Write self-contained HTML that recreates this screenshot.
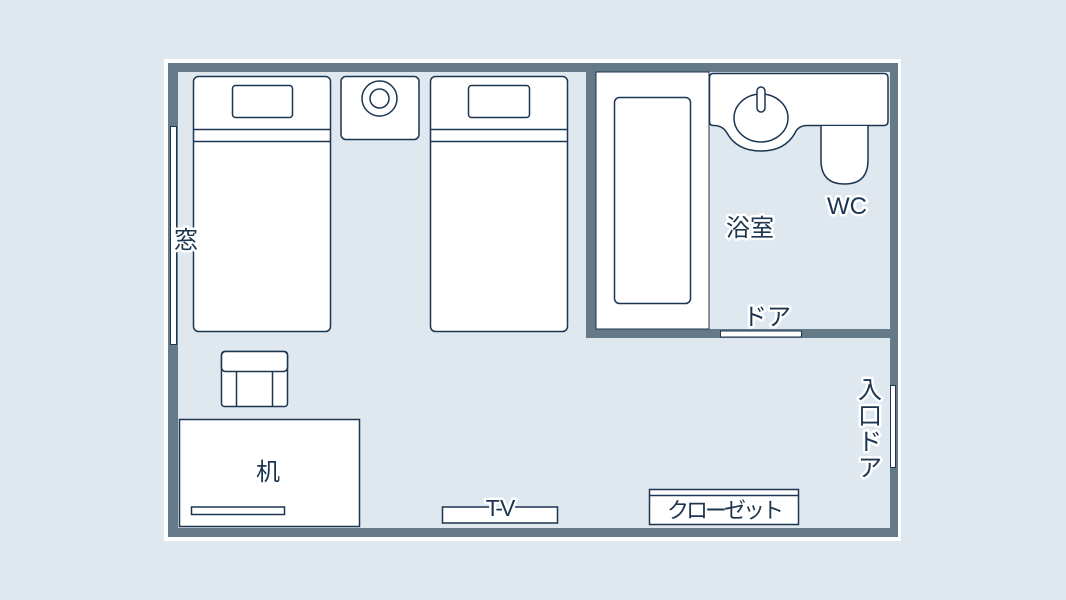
<!DOCTYPE html>
<html><head><meta charset="utf-8"><style>
html,body{margin:0;padding:0;background:#dfe7ef;}
svg{display:block}
text{font-family:"Liberation Sans","Noto Sans CJK JP",sans-serif;fill:#1c3550;}
.h{stroke:#fff;stroke-width:5;paint-order:stroke;stroke-linejoin:round}
</style></head><body>
<svg width="1066" height="600" viewBox="0 0 1066 600" xmlns="http://www.w3.org/2000/svg">
<rect width="1066" height="600" fill="#dfe7ef"/>
<rect x="164" y="59" width="737" height="482" fill="#fff"/>
<rect x="168" y="63" width="730" height="474" fill="#647a89"/>
<rect x="178" y="72" width="712" height="456" fill="#dfe7ef"/>
<!-- bath walls -->
<rect x="586" y="72" width="10" height="266" fill="#647a89"/>
<rect x="586" y="329" width="304" height="9" fill="#647a89"/>
<g fill="#fff" stroke="#1c3550" stroke-width="1.5">
<!-- bathtub -->
<rect x="596" y="72" width="113" height="257" stroke-width="1"/>
<rect x="614.5" y="97.5" width="76" height="206" rx="5"/>
<!-- vanity -->
<path d="M713,73.5 H884 Q888,73.5 888,78 V121 Q888,125.5 884,125.5 H806 Q798,126 795,133 Q785,151 761,151 Q737,151 727,133 Q723,126 715,125.5 H713 Q709.5,125.5 709.5,121 V78 Q709.5,73.5 713,73.5 Z"/>
<ellipse cx="761" cy="118" rx="27" ry="24"/>
<rect x="757" y="87" width="8" height="25" rx="4"/>
<path d="M821,126 V160 Q821,184 844.5,184 Q868,184 868,160 V126"/>
<!-- window & doors -->
<rect x="170.5" y="126.5" width="6" height="218" stroke-width="1"/>
<rect x="720.5" y="331" width="81" height="6" stroke-width="1"/>
<rect x="890.5" y="385.5" width="5" height="82" stroke-width="1"/>
<!-- beds -->
<rect x="193.5" y="76.5" width="137" height="255" rx="5"/>
<line x1="193.5" y1="129.5" x2="330.5" y2="129.5"/>
<line x1="193.5" y1="141.5" x2="330.5" y2="141.5"/>
<rect x="232.5" y="85.5" width="60" height="32" rx="3"/>
<rect x="430.5" y="76.5" width="137" height="255" rx="5"/>
<line x1="430.5" y1="129.5" x2="567.5" y2="129.5"/>
<line x1="430.5" y1="141.5" x2="567.5" y2="141.5"/>
<rect x="468.5" y="85.5" width="61" height="32" rx="3"/>
<!-- nightstand -->
<rect x="341" y="76.5" width="78" height="63" rx="5"/>
<circle cx="379.5" cy="98.5" r="17.5"/>
<circle cx="379.5" cy="98.5" r="9.5"/>
<!-- chair -->
<rect x="221.5" y="351.5" width="66" height="55" rx="3"/>
<rect x="221.5" y="351.5" width="66" height="20" rx="4"/>
<line x1="236.5" y1="372" x2="236.5" y2="406.5"/>
<line x1="272.5" y1="372" x2="272.5" y2="406.5"/>
<!-- desk -->
<rect x="179.5" y="419.5" width="180" height="107"/>
<rect x="191.5" y="507" width="93" height="7.5"/>
<!-- tv -->
<rect x="442.5" y="507" width="115" height="16"/>
<!-- closet -->
<rect x="649.5" y="489.5" width="149" height="35"/>
<line x1="649.5" y1="495.5" x2="798.5" y2="495.5"/>
</g>
<text x="186" y="248" font-size="24" text-anchor="middle" class="h">窓</text>
<text x="268" y="480" font-size="24" text-anchor="middle">机</text>
<text x="499" y="516" font-size="23" text-anchor="middle" class="h" letter-spacing="-3">T-V</text>
<text x="724" y="518" font-size="22" text-anchor="middle" class="h" letter-spacing="-3">クローゼット</text>
<text x="750" y="236" font-size="24" text-anchor="middle" class="h">浴室</text>
<text x="847" y="214" font-size="24" text-anchor="middle" class="h">WC</text>
<text x="767" y="325" font-size="24" text-anchor="middle" class="h">ドア</text>
<g font-size="24" text-anchor="middle">
<text x="870" y="398" class="h">入</text>
<text x="870" y="424" class="h">口</text>
<text x="870" y="450" class="h">ド</text>
<text x="870" y="476" class="h">ア</text>
</g>
</svg>
</body></html>
